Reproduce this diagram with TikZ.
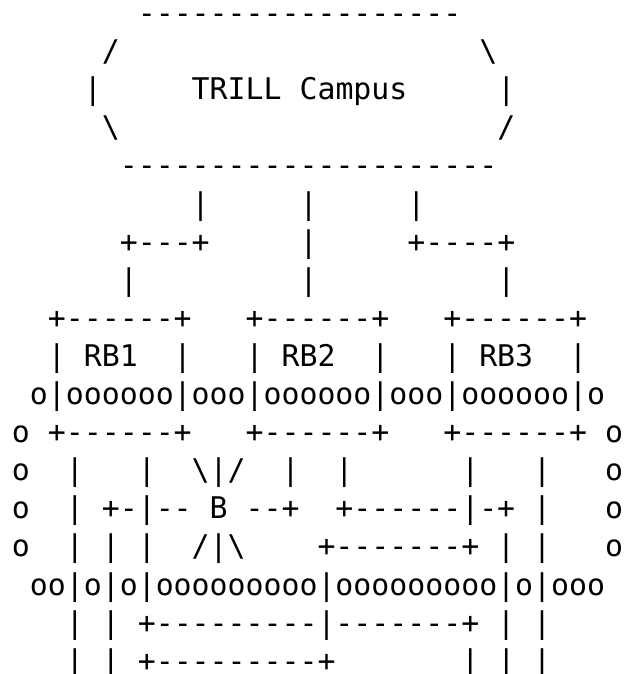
\documentclass[tikz,border=0pt]{standalone}
\usepackage{fontspec}
\setmonofont{DejaVu Sans Mono}
\begin{document}
\begin{tikzpicture}[x=0.75pt,y=-0.75pt,
  row/.style={anchor=base west,inner sep=0pt,outer sep=0pt,
    font=\ttfamily\fontsize{22.39pt}{28pt}\selectfont}]
% white page, 625 x 674 px
\useasboundingbox[fill=white] (0,0) rectangle (625,674);
% one monospace line per row; x = left edge of column 0, y = baseline
\node[row] (r1)  at (12, 23.5)  {~~~~~~~------------------};
\node[row] (r2)  at (12, 61.6)  {~~~~~/~~~~~~~~~~~~~~~~~~~~\textbackslash};
\node[row] (r3)  at (12, 99.7)  {~~~~|~~~~~TRILL~Campus~~~~~|};
\node[row] (r4)  at (12, 137.8) {~~~~~\textbackslash~~~~~~~~~~~~~~~~~~~~~/};
\node[row] (r5)  at (12, 175.9) {~~~~~~---------------------};
\node[row] (r6)  at (12, 214.0) {~~~~~~~~~~|~~~~~|~~~~~|};
\node[row] (r7)  at (12, 252.1) {~~~~~~+---+~~~~~|~~~~~+----+};
\node[row] (r8)  at (12, 290.2) {~~~~~~|~~~~~~~~~|~~~~~~~~~~|};
\node[row] (r9)  at (12, 328.3) {~~+------+~~~+------+~~~+------+};
\node[row] (r10) at (12, 366.4) {~~|~RB1~~|~~~|~RB2~~|~~~|~RB3~~|};
\node[row] (r11) at (12, 404.5) {~o|oooooo|ooo|oooooo|ooo|oooooo|o};
\node[row] (r12) at (12, 442.6) {o~+------+~~~+------+~~~+------+~o};
\node[row] (r13) at (12, 480.7) {o~~|~~~|~~\textbackslash|/~~|~~|~~~~~~|~~~|~~~o};
\node[row] (r14) at (12, 518.8) {o~~|~+-|--~B~--+~~+------|-+~|~~~o};
\node[row] (r15) at (12, 556.9) {o~~|~|~|~~/|\textbackslash~~~~+-------+~|~|~~~o};
\node[row] (r16) at (12, 595.0) {~oo|o|o|ooooooooo|ooooooooo|o|ooo};
\node[row] (r17) at (12, 633.1) {~~~|~|~+---------|-------+~|~|};
\node[row] (r18) at (12, 671.2) {~~~|~|~+---------+~~~~~~~|~|~|};
\end{tikzpicture}
\end{document}
